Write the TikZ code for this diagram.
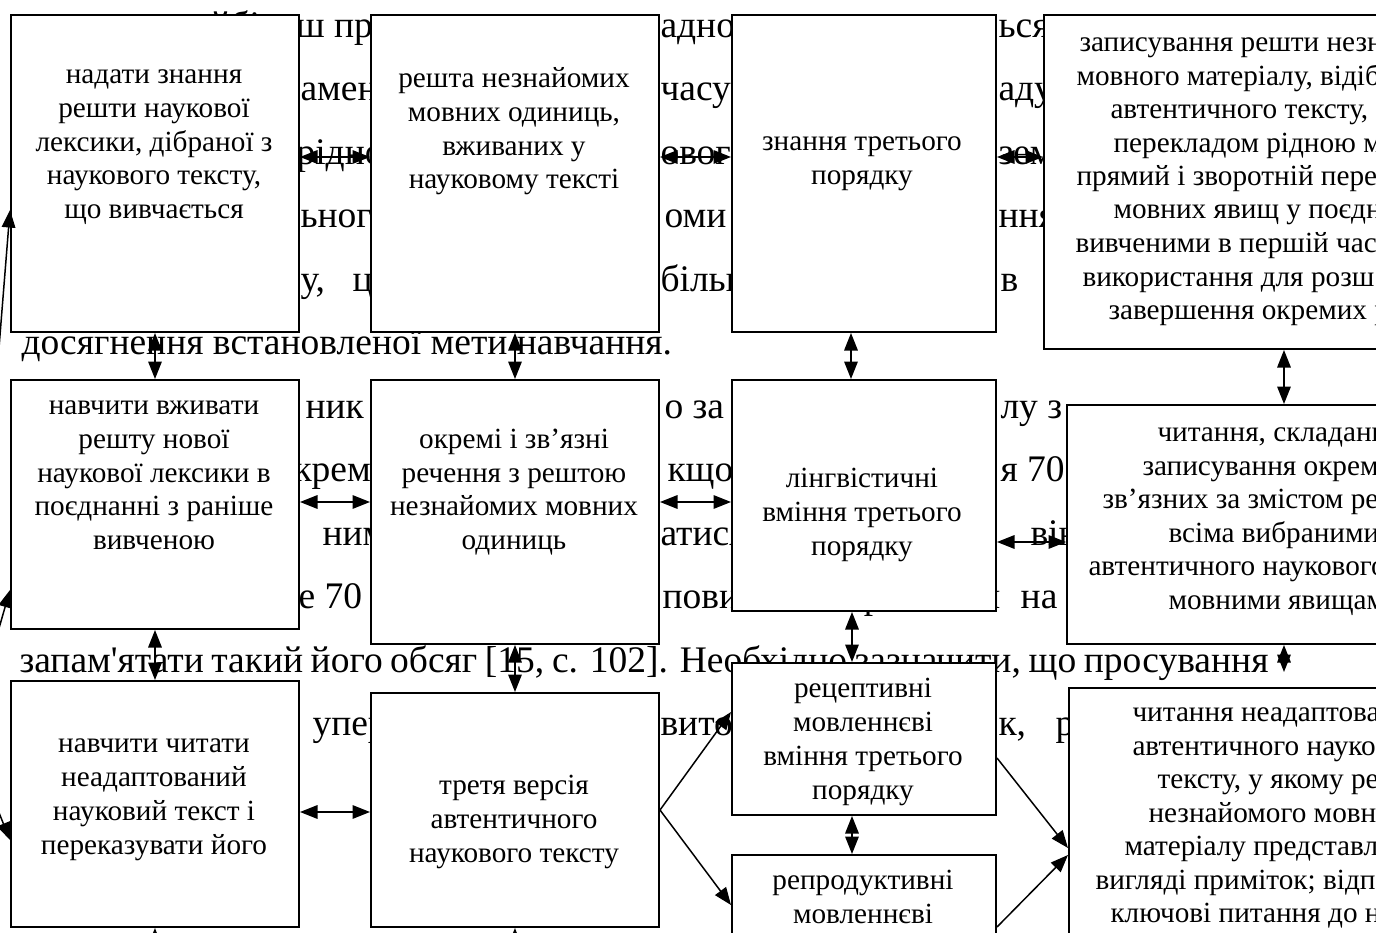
\documentclass[tikz,border=0pt]{standalone}
\usepackage{fontspec}
\setmainfont{Liberation Serif}[Ligatures=TeXOff]
\usetikzlibrary{arrows.meta, positioning, calc}

\begin{document}
\begin{tikzpicture}[x=0.4pt, y=-0.4pt,
  box/.style={rectangle, draw, fill=white, line width=0.8pt, anchor=north west, inner sep=0pt},
  wide/.style={box, minimum width=115.2pt},
  mid/.style={box, minimum width=105.6pt},
  edge/.style={box, minimum width=160pt},
  txt/.style={align=center, inner sep=0pt, anchor=base, font=\fontsize{11.7}{13.5}\selectfont},
  cut/.style={inner sep=0pt, anchor=base west, font=\fontsize{11.7}{13.5}\selectfont},
  bg/.style={inner sep=0pt, anchor=base west, font=\fontsize{15}{18}\selectfont},
  arr/.style={-{Triangle[length=7pt, width=5.4pt]}, line width=0.6pt},
  dbl/.style={{Triangle[length=7pt, width=5.4pt]}-{Triangle[length=7pt, width=5.4pt]}, line width=0.6pt}
]
\path[use as bounding box, fill=white] (0,0) rectangle (1376,933);

\foreach \x/\y/\t [count=\i] in {
  210/37/йбільш пр, 660/37/адно, 998/37/ься,
  300/100.5/амен, 660/100.5/часу, 998/100.5/аду,
  296/164/рідно, 660/164/овог, 998/164/зем,
  300/227.5/ьного, 664/227.5/оми, 998/227.5/ння,
  300/291/{у,}, 352/291/ц, 660/291/більш, 1000/291/в,
  21/354.5/{досягнення встановленої мети навчання.},
  305/418/ник р, 664/418/о за, 1000/418/лу з,
  293/481.5/крема, 667/481.5/кщо, 1000/481.5/я 70,
  322/545/ним, 660/545/атися, 1030/545/він,
  298/608.5/е 70,
  312/735.5/упер, 660/735.5/вито, 998/735.5/{к,}, 1055/735.5/р}
  \node[bg] (bg\i) at (\x,\y) {\t};
\node[bg] (bgten) at (662,608.5) {\makebox[158pt][s]{повинен затримання на}};
\node[bg] (bgeleven) at (19,672) {\makebox[499.6pt][s]{запам'ятати такий його обсяг [15, с. 102]. Необхідно зазначити, що просування}};

\node[wide, minimum height=126.8pt] (a1) at (10,14) {};
\node[wide, minimum height=126.8pt] (a2) at (370,14) {};
\node[mid, minimum height=126.8pt] (a3) at (731,14) {};
\node[edge, minimum height=133.6pt] (a4) at (1043,14) {};
\node[wide, minimum height=99.6pt] (b1) at (10,379) {};
\node[wide, minimum height=105.6pt] (b2) at (370,379) {};
\node[mid, minimum height=92.4pt] (b3) at (731,379) {};
\node[edge, minimum height=95.6pt] (b4) at (1066,404) {};
\node[wide, minimum height=98.4pt] (c1) at (10,680) {};
\node[wide, minimum height=93.6pt] (c2) at (370,692) {};
\node[mid, minimum height=60.8pt] (c3a) at (731,662) {};
\node[mid, minimum height=60pt] (c3b) at (731,854) {};
\node[edge, minimum height=120pt] (c4) at (1068,687) {};

\node[txt] (a1t) at (154,218.5) {надати знання\\решти наукової\\лексики, дібраної з\\наукового тексту,\\що вивчається};
\node[txt] (a2t) at (514,189) {решта незнайомих\\мовних одиниць,\\вживаних у\\науковому тексті};
\node[txt] (a3t) at (862,184) {знання третього\\порядку};
\node[txt] (b1t) at (154,549.5) {навчити вживати\\решту нової\\наукової лексики в\\поєднанні з раніше\\вивченою};
\node[txt] (b2t) at (514,549.5) {окремі і зв’язні\\речення з рештою\\незнайомих мовних\\одиниць};
\node[txt] (b3t) at (862,555) {лінгвістичні\\вміння третього\\порядку};
\node[txt] (c1t) at (154,854) {навчити читати\\неадаптований\\науковий текст і\\переказувати його};
\node[txt] (c2t) at (514,862) {третя версія\\автентичного\\наукового тексту};
\node[txt] (c3at) at (863,799) {рецептивні\\мовленнєві\\вміння третього\\порядку};
\node[txt] (c3bt) at (863,923) {репродуктивні\\мовленнєві};

\foreach \x/\y/\t [count=\i] in {
  1079/51.5/записування решти незн, 1076/85/{мовного матеріалу, відіб},
  1110/118.5/{автентичного тексту,}, 1113/152/перекладом рідною м,
  1076/185.5/прямий і зворотній пере, 1113/219/мовних явищ у поєдн,
  1075/252.5/вивченими в першій час, 1082/286/використання для розш,
  1108/319.5/завершення окремих р}
  \node[cut] (a4l\i) at (\x,\y) {\t};
\foreach \x/\y/\t [count=\i] in {
  1157/441.5/{читання, складанн}, 1142/475/записування окрем,
  1102/508.5/зв’язних за змістом ре, 1168/542/всіма вибраними,
  1088/575.5/автентичного наукового, 1168/609/мовними явищам}
  \node[cut] (b4l\i) at (\x,\y) {\t};
\foreach \x/\y/\t [count=\i] in {
  1132/721.5/читання неадаптова, 1132/755/автентичного науко,
  1157/788.5/{тексту, у якому ре}, 1148/822/незнайомого мовн,
  1124/855.5/матеріалу представл, 1095/889/{вигляді приміток; відп},
  1110/922.5/ключові питання до н}
  \node[cut] (c4l\i) at (\x,\y) {\t};

\draw[dbl] ($(a1.north east)+(0,143)$) -- ($(a2.north west)+(0,143)$);
\draw[dbl] ($(a2.north east)+(0,143)$) -- ($(a3.north west)+(0,143)$);
\draw[dbl] ($(a3.north east)+(0,143)$) -- ($(a4.north west)+(0,143)$);
\draw[dbl] (a1.south) -- (b1.north);
\draw[dbl] (a2.south) -- (b2.north);
\draw[dbl] ($(a3.south west)+(120,0)$) -- ($(b3.north west)+(120,0)$);
\draw[dbl] ($(a4.south west)+(241,0)$) -- ($(b4.north west)+(218,0)$);
\draw[dbl] ($(b1.north east)+(0,123)$) -- ($(b2.north west)+(0,123)$);
\draw[dbl] ($(b2.north east)+(0,123)$) -- ($(b3.north west)+(0,123)$);
\draw[dbl] ($(b3.north east)+(0,163)$) -- ($(b4.north west)+(0,138)$);
\draw[dbl] (b1.south) -- (c1.north);
\draw[dbl] (b2.south) -- (c2.north);
\draw[dbl] ($(b3.south west)+(121,0)$) -- ($(c3a.north west)+(121,0)$);
\draw[dbl, shorten >=6pt] ($(b4.south west)+(218,0)$) -- ($(c4.north west)+(216,0)$);
\draw[dbl] ($(c1.north east)+(0,132)$) -- ($(c2.north west)+(0,120)$);
\draw[dbl] ($(c3a.south west)+(121,0)$) -- ($(c3b.north west)+(121,0)$);
\draw[arr] (c2.east) -- ($(c3a.north west)+(0,50)$);
\draw[arr] (c2.east) -- ($(c3b.north west)+(0,51)$);
\draw[arr] ($(c3a.north east)+(0,96)$) -- ($(c4.north west)+(0,161)$);
\draw[arr] ($(c3b.north east)+(0,73)$) -- ($(c4.north west)+(0,168)$);
\coordinate (src) at (-32,736);
\draw[arr] (src) -- ($(a1.north west)+(0,196)$);
\draw[arr] (src) -- ($(b1.north west)+(0,211)$);
\draw[arr] (src) -- ($(c1.north west)+(0,160)$);
\coordinate (c1in) at (154,990);
\coordinate (c2in) at (514,990);
\draw[arr] (c1in) -- (c1.south);
\draw[arr] (c2in) -- (c2.south);
\end{tikzpicture}
\end{document}
